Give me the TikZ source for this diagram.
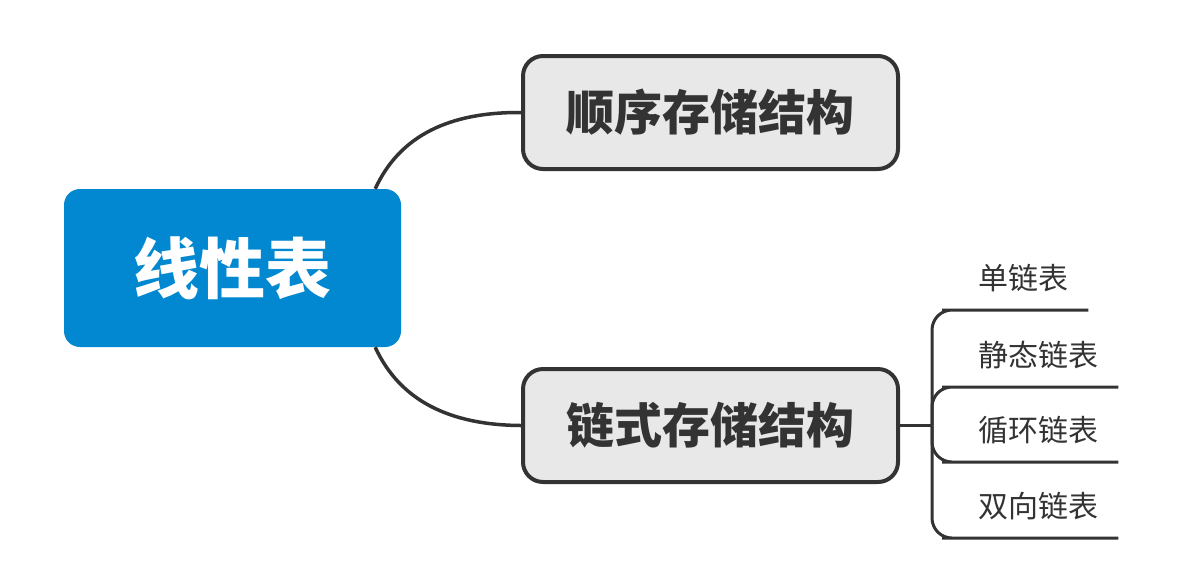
\documentclass[tikz,border=0pt]{standalone}
\usepackage{fontspec}
\newfontfamily\cjk{Noto Sans CJK SC}
\usetikzlibrary{calc,positioning}
\definecolor{rootblue}{HTML}{0288D1}
\definecolor{boxgray}{HTML}{E8E8E8}
\definecolor{inkgray}{HTML}{333333}
\tikzset{
  root/.style={rectangle, rounded corners=16pt, fill=rootblue, text=white,
    minimum width=337pt, minimum height=158pt, inner sep=0pt,
    font=\cjk\bfseries\fontsize{66}{70}\selectfont},
  topic/.style={rectangle, rounded corners=20pt, draw=inkgray, line width=4pt,
    fill=boxgray, text=inkgray, minimum width=375pt, minimum height=113pt,
    inner sep=0pt, font=\cjk\bfseries\fontsize{48}{52}\selectfont},
  branch/.style={inkgray, line width=3.5pt},
  twig/.style={inkgray, line width=3pt, rounded corners=20pt},
  leaf/.style={anchor=south west, inner xsep=16pt, inner ysep=0pt,
    text height=24pt, text depth=20pt, align=left, text=inkgray,
    font=\cjk\fontsize{30}{34}\selectfont},
}

\begin{document}
\begin{tikzpicture}[x=1pt, y=-1pt]
  \useasboundingbox (0,0) rectangle (1185,582);

  % Root
  \node[root] (linear) at (232.5,268) {线性表};

  % Storage structures
  \node[topic] (seq) at (710.5,112.5) {顺序存储结构};
  \node[topic] (chain) at (710.5,425.5) {链式存储结构};

  % Root to structures
  \draw[branch] ($(linear.north east)+(-26,0)$)
    .. controls (400,135) and (450,112) .. (seq.west);
  \draw[branch] ($(linear.south east)+(-26,0)$)
    .. controls (400,401) and (450,425) .. (chain.west);

  % Kinds of linked list
  \node[leaf, text width=94pt] (single) at (962,310) {单链表};
  \node[leaf, text width=124pt] (static) at (962,387) {静态链表};
  \node[leaf, text width=124pt] (circular) at (962,462) {循环链表};
  \node[leaf, text width=124pt] (double) at (962,538) {双向链表};

  \coordinate (fork) at ($(chain.east)+(32,0)$);
  \draw[branch] (chain.east) -- (fork);
  \foreach \kind in {single,static,circular,double}
    \draw[twig] (fork) |- (\kind.south west) -- (\kind.south east);
\end{tikzpicture}
\end{document}
